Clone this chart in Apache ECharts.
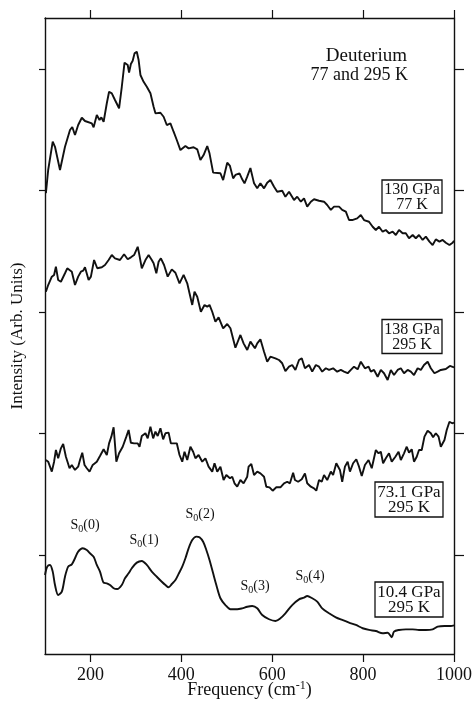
<!DOCTYPE html>
<html>
<head>
<meta charset="utf-8">
<script src="https://cdn.jsdelivr.net/npm/echarts@6/dist/echarts.min.js"></script>
<style>html,body{margin:0;padding:0;background:#fff;}#c{width:474px;height:706px;}</style>
</head>
<body>
<div id="c"></div>
<script>
// Frequency ticks (cm^-1)
const xTicks = [200, 400, 600, 800, 1000];
const yTicks = [1, 2, 3, 4, 5];

// 130 GPa, 77 K
const f130 = [102,107,117,122,133,137,144,155,160,166,173,181,188,203,207,214,220,224,229,236,241,247,254,263,269,275,282,285,289,293,297,302,306,310,317,324,332,339,343,354,361,368,376,383,390,398,409,416,427,435,442,449,457,462,470,486,492,501,507,514,519,528,534,539,545,552,560,567,574,582,589,596,604,611,622,629,637,648,655,663,670,677,685,692,703,714,721,729,736,747,754,762,769,776,787,795,802,813,821,828,835,843,850,857,865,872,879,887,894,901,909,916,923,931,938,946,953,960,968,975,982,990,997,1000];
const i130 = [3.979,4.169,4.402,4.360,4.169,4.185,4.360,4.498,4.523,4.457,4.539,4.599,4.572,4.553,4.520,4.621,4.580,4.602,4.566,4.718,4.813,4.800,4.745,4.677,4.854,5.052,5.033,4.970,5.041,5.068,5.129,5.142,5.074,4.951,4.895,4.854,4.800,4.690,4.635,4.640,4.607,4.539,4.553,4.484,4.416,4.333,4.366,4.347,4.356,4.339,4.251,4.292,4.366,4.306,4.147,4.142,4.086,4.229,4.202,4.100,4.128,4.142,4.092,4.059,4.114,4.185,4.059,4.018,4.059,4.018,4.064,4.086,4.031,3.990,3.998,3.949,3.990,3.922,3.949,3.908,3.936,3.867,3.908,3.928,3.916,3.908,3.881,3.840,3.867,3.867,3.840,3.826,3.757,3.757,3.771,3.798,3.757,3.743,3.702,3.675,3.702,3.661,3.675,3.648,3.661,3.634,3.675,3.648,3.648,3.607,3.634,3.607,3.634,3.593,3.620,3.579,3.551,3.598,3.579,3.593,3.570,3.551,3.570,3.587];

// 138 GPa, 295 K
const f138 = [102,107,115,120,124,129,135,139,144,149,159,166,173,179,184,188,196,201,208,215,225,232,236,240,247,254,265,274,282,289,296,304,307,313,321,328,335,339,345,350,355,362,370,379,387,396,405,413,418,424,429,435,443,451,457,462,468,475,482,492,501,508,519,530,537,545,552,562,567,574,582,589,596,607,615,622,629,637,644,651,659,665,672,681,688,696,703,710,718,725,734,743,751,758,766,773,780,788,795,799,804,812,817,824,832,839,846,854,861,868,876,883,890,898,905,912,920,927,934,942,949,957,964,971,982,991,1000];
const i138 = [3.167,3.222,3.291,3.305,3.373,3.263,3.249,3.236,3.319,3.360,3.332,3.222,3.291,3.332,3.340,3.368,3.263,3.291,3.428,3.360,3.368,3.387,3.373,3.428,3.469,3.442,3.428,3.475,3.434,3.450,3.469,3.537,3.483,3.360,3.428,3.469,3.428,3.401,3.319,3.414,3.442,3.387,3.291,3.351,3.323,3.236,3.305,3.236,3.154,3.058,3.167,3.126,3.002,3.058,3.044,3.058,3.002,2.920,2.956,2.866,2.901,2.866,2.706,2.811,2.742,2.687,2.756,2.701,2.742,2.775,2.673,2.591,2.632,2.619,2.605,2.578,2.514,2.550,2.564,2.523,2.605,2.619,2.537,2.564,2.509,2.564,2.550,2.509,2.537,2.523,2.537,2.509,2.523,2.509,2.496,2.523,2.550,2.528,2.591,2.605,2.537,2.550,2.509,2.523,2.467,2.523,2.496,2.440,2.523,2.481,2.523,2.537,2.496,2.523,2.509,2.481,2.537,2.523,2.564,2.591,2.537,2.496,2.509,2.523,2.531,2.556,2.545];

// 73.1 GPa, 295 K
const f73 = [102,107,115,120,124,129,135,140,146,154,159,166,173,177,182,187,192,198,205,214,221,229,236,241,246,251,257,263,271,279,284,289,296,304,308,313,321,326,332,338,343,348,354,360,365,372,377,383,390,396,402,407,413,420,426,431,438,446,453,460,468,473,479,486,493,499,507,512,517,523,530,537,545,548,554,560,567,574,582,587,594,601,609,618,626,633,639,646,650,657,665,672,677,685,692,697,703,709,714,721,729,734,741,749,754,760,766,771,778,785,791,797,804,812,819,828,834,839,844,850,857,863,871,878,883,890,896,901,907,912,918,923,929,935,942,949,954,960,966,971,979,984,990,996,1000];
const i73 = [1.782,1.768,1.686,1.768,1.864,1.796,1.878,1.914,1.809,1.714,1.741,1.700,1.727,1.782,1.842,1.741,1.714,1.686,1.741,1.768,1.815,1.870,1.823,1.919,1.974,2.051,1.768,1.837,1.891,1.974,2.029,1.924,1.919,1.919,1.891,1.979,2.002,1.960,2.056,1.960,2.015,1.979,2.043,1.952,2.002,2.007,1.919,1.919,1.919,1.823,1.768,1.850,1.782,1.891,1.850,1.796,1.823,1.768,1.796,1.727,1.686,1.755,1.686,1.727,1.617,1.658,1.631,1.644,1.590,1.562,1.617,1.590,1.644,1.727,1.749,1.658,1.686,1.672,1.644,1.562,1.557,1.529,1.557,1.557,1.590,1.603,1.590,1.677,1.617,1.603,1.623,1.672,1.590,1.562,1.549,1.529,1.617,1.603,1.658,1.617,1.686,1.658,1.755,1.700,1.603,1.727,1.768,1.686,1.755,1.788,1.727,1.650,1.741,1.782,1.714,1.864,1.837,1.850,1.755,1.796,1.837,1.768,1.809,1.850,1.782,1.837,1.891,1.842,1.870,1.768,1.809,1.864,1.864,1.974,2.023,2.002,1.969,2.002,1.974,1.891,1.947,2.029,2.097,2.084,2.089];

// 10.4 GPa, 295 K
const f10 = [100,105,111,117,122,129,137,144,151,159,166,173,183,192,199,207,214,221,229,236,243,251,259,269,276,284,291,302,313,324,335,346,357,365,372,379,387,394,402,409,416,424,433,440,448,455,462,470,477,486,497,508,523,534,545,556,567,578,593,607,618,629,644,659,670,677,688,699,710,725,740,754,769,784,799,813,828,843,854,863,868,879,894,909,923,938,953,964,979,993,1000];
const i10 = [0.835,0.904,0.918,0.863,0.753,0.671,0.698,0.821,0.904,0.923,0.973,1.027,1.055,1.041,1.014,0.986,0.918,0.863,0.772,0.767,0.753,0.726,0.720,0.753,0.808,0.849,0.891,0.937,0.951,0.918,0.863,0.821,0.780,0.753,0.734,0.761,0.794,0.844,0.904,0.973,1.055,1.123,1.151,1.146,1.109,1.041,0.959,0.849,0.753,0.644,0.588,0.553,0.553,0.561,0.574,0.580,0.561,0.506,0.471,0.457,0.479,0.520,0.588,0.635,0.649,0.663,0.644,0.616,0.561,0.520,0.487,0.465,0.443,0.424,0.397,0.383,0.374,0.356,0.360,0.323,0.369,0.383,0.388,0.388,0.383,0.383,0.388,0.410,0.416,0.416,0.421];

const traceLabels = [['130 GPa', '77 K'], ['138 GPa', '295 K'], ['73.1 GPa', '295 K'], ['10.4 GPa', '295 K']];
const peakLabels = ['0', '1', '2', '3', '4'];

function pairs(xs, ys) {
  const n = Math.min(xs.length, ys.length);
  const out = [];
  for (let k = 0; k < n; k++) out.push([xs[k], ys[k]]);
  return out;
}

const FONT = '"Liberation Serif", "Times New Roman", "DejaVu Serif", serif';
const INK = '#111';

const chart = echarts.init(document.getElementById('c'), null, {renderer: 'canvas'});

function lineSeries(xs, ys, smooth) {
  return {
    type: 'line', data: pairs(xs, ys), showSymbol: false, symbol: 'none',
    smooth: smooth, animation: false, silent: true,
    lineStyle: {color: INK, width: 1.9}
  };
}

const axisCommon = {
  axisLine: {show: true, lineStyle: {color: INK, width: 1.4}},
  splitLine: {show: false},
};

// graphic elements: boxes and annotations
const boxes = [
  {x: 382, y: 180, w: 60, h: 33, fs: 16},
  {x: 382, y: 319.5, w: 60, h: 34, fs: 16},
  {x: 375, y: 482, w: 68, h: 35, fs: 17},
  {x: 375, y: 582, w: 68, h: 35, fs: 17}
];
const graphics = [];
boxes.forEach((b, k) => {
  graphics.push({type: 'rect', shape: {x: b.x, y: b.y, width: b.w, height: b.h},
    style: {fill: '#fff', stroke: INK, lineWidth: 1.3}, z: 10});
  graphics.push({type: 'text', x: b.x + b.w / 2, y: b.y + b.h / 2 + 0.5, z: 11,
    style: {text: traceLabels[k].join('\n'), font: b.fs + 'px ' + FONT, fill: INK,
      align: 'center', verticalAlign: 'middle', lineHeight: 15}});
});
graphics.push({type: 'text', x: 407, y: 56, z: 11,
  style: {text: 'Deuterium', font: '19px ' + FONT, fill: INK, align: 'right', verticalAlign: 'middle'}});
graphics.push({type: 'text', x: 408, y: 75, z: 11,
  style: {text: '77 and 295 K', font: '18px ' + FONT, fill: INK, align: 'right', verticalAlign: 'middle'}});

const peakPos = [[85, 525], [144, 540], [200, 514], [255, 586], [310, 576]];
peakLabels.forEach((p, k) => {
  graphics.push({type: 'text', x: peakPos[k][0], y: peakPos[k][1], z: 11,
    style: {text: '{s|S}{b|0}{s|(' + p + ')}', align: 'center', verticalAlign: 'middle', fill: INK,
      rich: {
        s: {fontFamily: FONT, fontSize: 14, fill: INK, color: INK},
        b: {fontFamily: FONT, fontSize: 10, fill: INK, color: INK, padding: [8, 0, 0, 0]}
      }}});
});

const option = {
  backgroundColor: '#fff',
  animation: false,
  grid: {left: 45, right: 20, top: 18, bottom: 52, containLabel: false, outerBoundsMode: 'none'},
  xAxis: [
    Object.assign({}, axisCommon, {
      type: 'value', position: 'bottom', min: 100, max: 1000,
      axisTick: {show: true, inside: false, length: 8, customValues: xTicks, lineStyle: {color: INK, width: 1.2}},
      axisLabel: {show: true, customValues: xTicks, margin: 12, color: INK, fontFamily: FONT, fontSize: 18,
        formatter: (v) => String(v), hideOverlap: false},
      name: '{a|Frequency (cm}{p|-1}{a|)}', nameLocation: 'middle', nameGap: 26, nameMoveOverlap: false,
      nameTextStyle: {rich: {
        a: {fontFamily: FONT, fontSize: 18, color: INK},
        p: {fontFamily: FONT, fontSize: 12, color: INK, padding: [0, 0, 9, 0]}
      }}
    }),
    Object.assign({}, axisCommon, {
      type: 'value', position: 'top', min: 100, max: 1000,
      axisTick: {show: true, inside: false, length: 8, customValues: xTicks, lineStyle: {color: INK, width: 1.2}},
      axisLabel: {show: false}
    })
  ],
  yAxis: [
    Object.assign({}, axisCommon, {
      type: 'value', position: 'left', min: 0.185, max: 5.42,
      axisTick: {show: true, inside: false, length: 6, customValues: yTicks, lineStyle: {color: INK, width: 1.2}},
      axisLabel: {show: false},
      name: 'Intensity (Arb. Units)', nameLocation: 'middle', nameGap: 19, nameRotate: 90, nameMoveOverlap: false,
      nameTextStyle: {fontFamily: FONT, fontSize: 17, color: INK}
    }),
    Object.assign({}, axisCommon, {
      type: 'value', position: 'right', min: 0.185, max: 5.42,
      axisTick: {show: true, inside: false, length: 10, customValues: yTicks, lineStyle: {color: INK, width: 1.2}},
      axisLabel: {show: false}
    })
  ],
  series: [
    lineSeries(f130, i130, false),
    lineSeries(f138, i138, false),
    lineSeries(f73, i73, false),
    lineSeries(f10, i10, 0.3)
  ],
  graphic: graphics
};
chart.setOption(option);
</script>
</body>
</html>
